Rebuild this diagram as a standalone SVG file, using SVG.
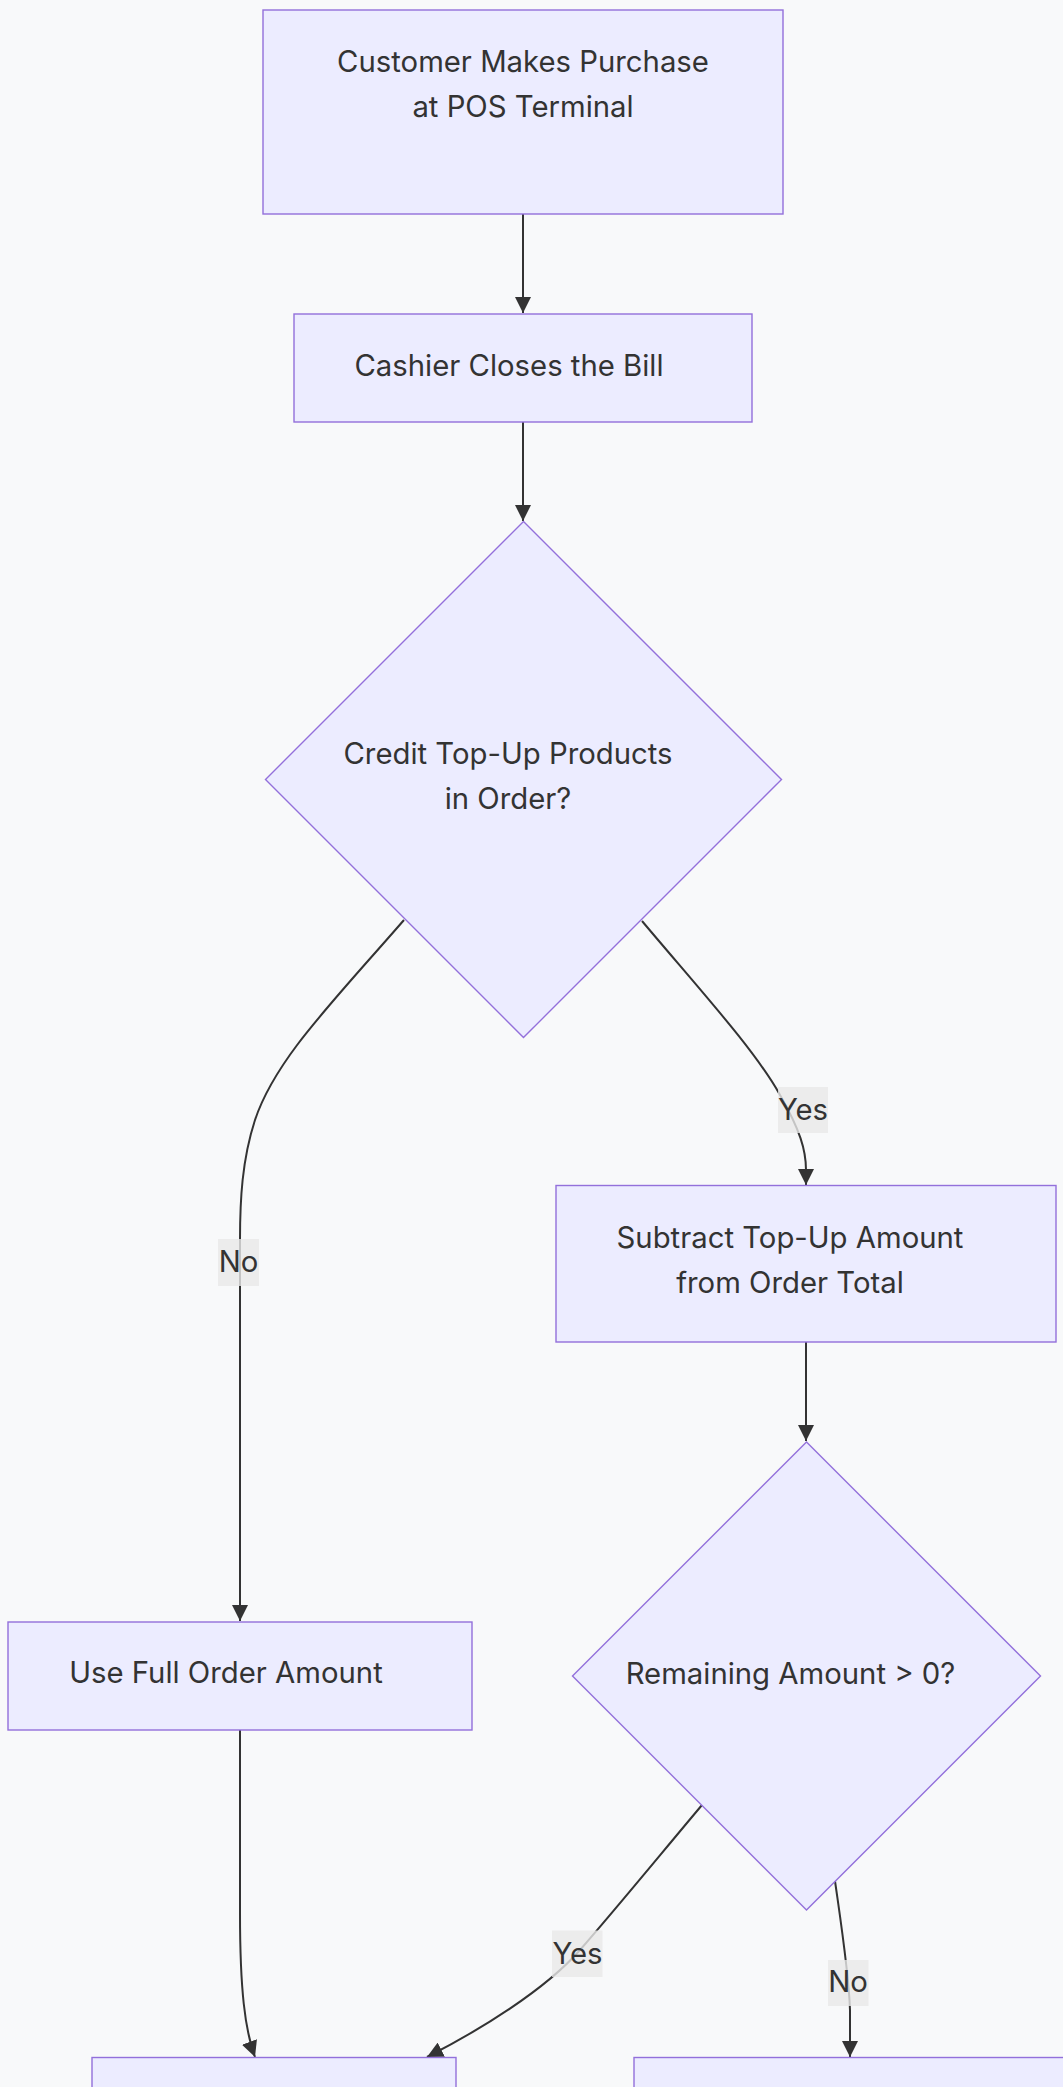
<svg xmlns="http://www.w3.org/2000/svg" width="1063" height="2087" viewBox="0 0 1063 2087">
<style>
.node rect,.node polygon{fill:#ECECFF;stroke:#9370DB;stroke-width:1.4}
.nt{font-family:Inter,"Noto Sans","Liberation Sans",sans-serif;font-size:29.3px;fill:#333333;text-anchor:middle}
.edge{fill:none;stroke:#333333;stroke-width:2}
.lbl rect{fill:#e8e8e8;fill-opacity:0.8}
</style>
<defs>
<marker id="arr" viewBox="0 0 10 10" refX="10" refY="5" markerUnits="userSpaceOnUse" markerWidth="16" markerHeight="16" orient="auto">
<path d="M0,0 L10,5 L0,10 z" fill="#333333"/>
</marker>
</defs>
<rect x="0" y="0" width="1063" height="2087" fill="#f8f9fa"/>
<g id="connectors">
<path class="edge" d="M523,214 L523,313" marker-end="url(#arr)"/>
<path class="edge" d="M523,422 L523,521" marker-end="url(#arr)"/>
<path class="edge" d="M404,920 C330,1005 275,1060 255,1120 C242,1160 240,1200 240,1240 L240,1621" marker-end="url(#arr)"/>
<path class="edge" d="M642,921 C700,990 755,1050 780,1095 C800,1130 806,1150 806,1170 L806,1185" marker-end="url(#arr)"/>
<path class="edge" d="M806,1342 L806,1441" marker-end="url(#arr)"/>
<path class="edge" d="M702,1805 C660,1855 615,1910 580,1950 C545,1990 480,2030 427,2057" marker-end="url(#arr)"/>
<path class="edge" d="M835,1881 C842,1930 849,1975 850,2010 L850,2057" marker-end="url(#arr)"/>
<path class="edge" d="M240,1730 L240,1913 C240,1990 245,2030 255,2057" marker-end="url(#arr)"/>
<g class="lbl"><rect x="218" y="1239" width="41" height="47"/><text class="nt" x="238.5" y="1272">No</text></g>
<g class="lbl"><rect x="778" y="1087" width="50" height="46"/><text class="nt" x="803" y="1120">Yes</text></g>
<g class="lbl"><rect x="552" y="1930.5" width="50.5" height="46.5"/><text class="nt" x="577.5" y="1964">Yes</text></g>
<g class="lbl"><rect x="828" y="1960" width="40.5" height="46"/><text class="nt" x="848" y="1992">No</text></g>
</g>
<g id="start" class="node"><rect x="263" y="10" width="520" height="204"/><text class="nt" x="523" y="72">Customer Makes Purchase</text><text class="nt" x="523" y="117">at POS Terminal</text></g>
<g id="closeBill" class="node"><rect x="294" y="314" width="458" height="108"/><text class="nt" x="509" y="376">Cashier Closes the Bill</text></g>
<g id="checkTopUp" class="node"><polygon points="523.5,521.5 781.5,779.5 523.5,1037.5 265.5,779.5"/><text class="nt" x="508" y="764">Credit Top-Up Products</text><text class="nt" x="508" y="809">in Order?</text></g>
<g id="fullAmount" class="node"><rect x="8" y="1622" width="464" height="108"/><text class="nt" x="226" y="1683">Use Full Order Amount</text></g>
<g id="subtract" class="node"><rect x="556" y="1185.5" width="500" height="156.5"/><text class="nt" x="790" y="1248">Subtract Top-Up Amount</text><text class="nt" x="790" y="1293">from Order Total</text></g>
<g id="checkRemaining" class="node"><polygon points="806.5,1442 1040.5,1676 806.5,1910 572.5,1676"/><text class="nt" x="790.5" y="1684">Remaining Amount &gt; 0?</text></g>
<g id="payLeft" class="node"><rect x="92" y="2057.5" width="364" height="100"/></g>
<g id="payRight" class="node"><rect x="634" y="2057.5" width="500" height="100"/></g>
</svg>
